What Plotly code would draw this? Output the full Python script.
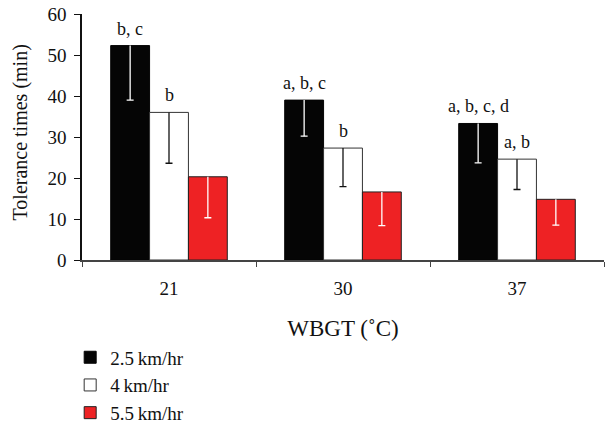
import plotly.graph_objects as go

categories = ["21", "30", "37"]
series_names = ["2.5\u2009km/hr", "4\u2009km/hr", "5.5\u2009km/hr"]
values_25 = [52.3, 39.0, 33.3]
values_4 = [36.0, 27.3, 24.6]
values_55 = [20.3, 16.6, 14.8]
err_25 = [13.3, 8.8, 9.6]
err_4 = [12.4, 9.4, 7.4]
err_55 = [10.0, 8.2, 6.3]
labels_25 = ["b, c", "a, b, c", "a, b, c, d"]
labels_4 = ["b", "b", "a, b"]
labels_55 = ["", "", ""]

FONT = "Liberation Serif"
fills = ["#050505", "#ffffff", "#ee2224"]
edges = ["#050505", "#333333", "#222222"]
errcols = ["#ffffff", "#111111", "#ffffff"]
vals = [values_25, values_4, values_55]
errs = [err_25, err_4, err_55]
labs = [labels_25, labels_4, labels_55]

fig = go.Figure()
for i in range(3):
    fig.add_trace(go.Bar(
        x=categories, y=vals[i], name=series_names[i], offsetgroup=str(i),
        marker=dict(color=fills[i], line=dict(color=edges[i], width=1)),
        error_y=dict(type="data", symmetric=False, array=[0] * 3, arrayminus=errs[i],
                     color=errcols[i], thickness=1.3, width=0),
    ))
# bottom caps of the one-sided error bars
for i in range(3):
    lows = [v - e for v, e in zip(vals[i], errs[i])]
    fig.add_trace(go.Bar(
        x=categories, y=lows, offsetgroup=str(i), showlegend=False, hoverinfo="skip",
        marker=dict(color="rgba(0,0,0,0)", line=dict(width=0)),
        error_y=dict(type="data", symmetric=False, array=[0] * 3, arrayminus=[0] * 3,
                     color=errcols[i], thickness=1.3, width=3.5),
    ))

offsets = [-39, 0, 39]
for i in range(3):
    for k, (v, t) in enumerate(zip(vals[i], labs[i])):
        if t:
            fig.add_annotation(x=k, y=v, text=t, xshift=offsets[i], yshift=5,
                               yanchor="bottom", showarrow=False,
                               font=dict(family=FONT, size=18, color="#111"))

# y-axis title
fig.add_annotation(xref="paper", yref="paper", x=-0.117, y=0.518, text="Tolerance times (min)",
                   textangle=-90, showarrow=False, xanchor="center", yanchor="middle",
                   font=dict(family=FONT, size=20, color="#111"))

fig.update_layout(
    width=605, height=423,
    margin=dict(l=82, r=1, t=14, b=163, autoexpand=False),
    paper_bgcolor="white", plot_bgcolor="white",
    barmode="group", bargap=0.33, bargroupgap=0,
    font=dict(family=FONT, size=19, color="#111"),
    showlegend=True,
    legend=dict(xref="container", yref="container", x=0.116, y=0.2,
                xanchor="left", yanchor="top", traceorder="normal",
                font=dict(family=FONT, size=19), bgcolor="rgba(0,0,0,0)"),
)
fig.update_xaxes(type="category", range=[-0.5, 2.5], tickson="boundaries", ticks="outside", ticklen=5,
                 tickcolor="#444", showline=True, linecolor="#444", linewidth=1.5,
                 ticklabelstandoff=10,
                 title=dict(text="WBGT (\u02daC)", standoff=22), showgrid=False, tickangle=0)
fig.update_yaxes(range=[0, 60], dtick=10, ticks="outside", ticklen=6, tickcolor="#111",
                 showline=True, linecolor="#111", linewidth=1.5, showgrid=False, zeroline=False,
                 ticklabelstandoff=4)

fig.write_html("out.html", post_script="document.body.style.margin='0';",
               config={"displayModeBar": False})
